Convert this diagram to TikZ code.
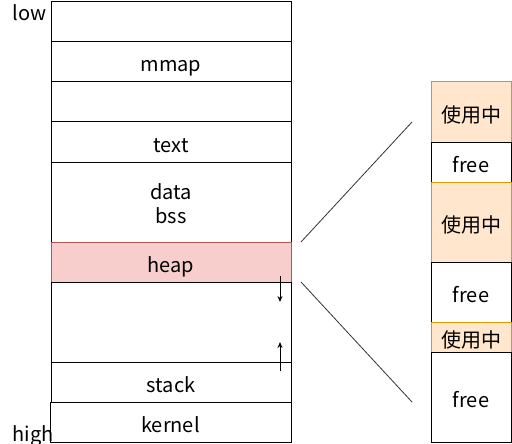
\documentclass[tikz,border=0pt]{standalone}
\usepackage{fontspec}
\setmainfont{Noto Sans CJK SC}
\usetikzlibrary{positioning,arrows.meta}

\definecolor{heapfill}{HTML}{F8CECC}
\definecolor{heapline}{HTML}{B85450}
\definecolor{usedfill}{HTML}{FFE6CC}
\definecolor{usedline}{HTML}{D79B00}

\tikzset{
  seg/.style={draw, line width=1pt, minimum width=240pt, minimum height=40pt,
    inner sep=0pt, outer sep=0pt, align=center, text height=20pt, text depth=0pt,
    font=\fontsize{20}{23.5}\selectfont},
  blk/.style={draw, line width=1pt, minimum width=80pt, text height=20pt, text depth=0pt,
    inner sep=0pt, outer sep=0pt, font=\fontsize{20}{23.5}\selectfont},
  used/.style={blk, fill=usedfill, draw=usedline},
  growarrow/.style={line width=1pt, -{Stealth[length=6pt,width=5pt]}},
}

\begin{document}
\begin{tikzpicture}[x=1pt,y=-1pt]
\useasboundingbox (0,0) rectangle (512,444);

% address space, low to high
\node[seg] (blanka) at (171,22) {};
\node[seg, below=0pt of blanka] (mmap) {mmap};
\node[seg, below=0pt of mmap] (blankb) {};
\node[seg, below=0pt of blankb] (text) {text};
\node[seg, minimum height=80pt, text height=46.5pt, text depth=4.5pt, below=0pt of text] (data) {data\\bss};
\node[seg, fill=heapfill, draw=heapline, below=0pt of data] (heap) {heap};
\node[seg, minimum height=80pt, below=0pt of heap] (hole) {};
\node[seg, below=0pt of hole] (stack) {stack};
\node[seg, minimum width=241pt, below=0pt of stack, xshift=-0.5pt] (kernel) {kernel};

\node[anchor=base west, font=\fontsize{20}{24}\selectfont] (low) at (9,21) {low};
\node[anchor=base west, font=\fontsize{20}{24}\selectfont] (high) at (9,441) {high};

% growth arrows
\draw[growarrow] ([xshift=-11pt,yshift=6pt]heap.south east) -- ([xshift=-11pt,yshift=-20pt]heap.south east);
\draw[growarrow] ([xshift=-11pt,yshift=-9pt]stack.north east) -- ([xshift=-11pt,yshift=20pt]stack.north east);

% heap blocks
\node[used, minimum height=60pt] (usea) at (471,112) {使用中};
\node[blk, minimum height=40pt, below=0pt of usea] (freea) {free};
\node[used, minimum height=80pt, below=0pt of freea] (useb) {使用中};
\node[blk, minimum height=60pt, below=0pt of useb] (freeb) {free};
\node[used, minimum height=30pt, below=0pt of freeb] (usec) {使用中};
\node[blk, minimum height=90pt, below=0pt of usec] (freec) {free};

\coordinate (zoomtop) at (412,122);
\coordinate (zoombot) at (412,402);
\draw[line width=0.8pt, black!80] ([xshift=10pt]heap.north east) -- (zoomtop);
\draw[line width=0.8pt, black!80] ([xshift=10pt]heap.south east) -- (zoombot);
\end{tikzpicture}
\end{document}
